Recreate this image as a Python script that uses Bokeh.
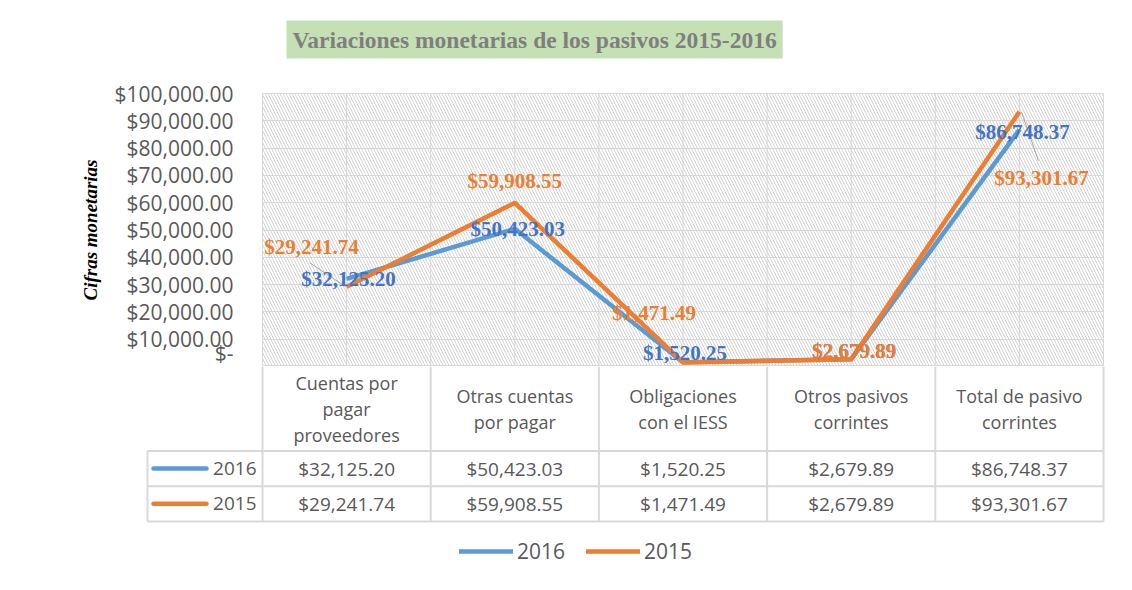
from bokeh.plotting import figure
from bokeh.models import (Range1d, FixedTicker, BoxAnnotation, ColumnDataSource,
                          Legend, LegendItem, Title)
from bokeh.layouts import column
from bokeh.embed import file_html
from bokeh.resources import INLINE
from bokeh.core.properties import value
import numpy as np

# ---------------- data ----------------
categories = ["Cuentas por\npagar\nproveedores", "Otras cuentas\npor pagar",
              "Obligaciones\ncon el IESS", "Otros pasivos\ncorrintes",
              "Total de pasivo\ncorrintes"]
series_names = ["2016", "2015"]
values_2016 = [32125.20, 50423.03, 1520.25, 2679.89, 86748.37]
values_2015 = [29241.74, 59908.55, 1471.49, 2679.89, 93301.67]
y_ticks = [0, 10000, 20000, 30000, 40000, 50000, 60000, 70000, 80000, 90000, 100000]
y_tick_labels = ["$-", "$10,000.00", "$20,000.00", "$30,000.00", "$40,000.00",
                 "$50,000.00", "$60,000.00", "$70,000.00", "$80,000.00",
                 "$90,000.00", "$100,000.00"]
title_text = "Variaciones monetarias de los pasivos 2015-2016"
y_axis_title = "Cifras monetarias"

# ---------------- styles ----------------
C16_LINE = "#5B9BD5"
C15_LINE = "#ED7D31"
C16_LABEL = "#4472C4"
C15_LABEL = "#ED7D31"
GRID = "#d9d9d9"
TXT = "#595959"
SANS = "Open Sans"
SERIF = "Liberation Serif"

W = 1116
COL_W = 168.2          # px per category column
FRAME_H = 273          # px plot area height
FRAME_TOP = 93
Y_MAX = 100000
n = len(categories)
xs = np.arange(n) + 0.5

# label offsets (px, screen, y down) per point
off16_x = [2, 3, 2, 3, 3]
off16_y = [0, 0, -9, -8, 2]
off15_x = [-35, 0, -29, 3, 22]
off15_y = [-40, -22, -49, -8, 66]


def fmt(v):
    return "${:,.2f}".format(v)


# ---------------- chart figure ----------------
pA = figure(width=W, height=FRAME_TOP + FRAME_H, x_range=Range1d(0, n),
            y_range=Range1d(0, Y_MAX), x_axis_type=None,
            output_backend="svg", toolbar_location=None,
            min_border_left=262, min_border_right=W - 262 - 841,
            min_border_top=FRAME_TOP, min_border_bottom=0)
pA.frame_align = False
pA.outline_line_color = GRID
pA.background_fill_color = "white"
pA.border_fill_color = "white"

# title (default title is outermost) + invisible spacer between it and the frame
t = pA.title
t.text = title_text
t.text_font = SERIF
t.text_font_style = "bold"
t.text_font_size = "23.5px"
t.text_color = "#7f7f7f"
t.background_fill_color = "#C5E0B4"
t.align = "left"
t.offset = 24
t.standoff = 0
t.padding = 6
pA.add_layout(Title(text=" ", text_font_size="1px", standoff=32), "above")

# hatch over the plot area
pA.add_layout(BoxAnnotation(fill_alpha=0, line_alpha=0, hatch_pattern="\\",
                            hatch_color="#d4d4d4", hatch_scale=6,
                            hatch_weight=1, level="underlay"))

ax = pA.yaxis[0]
ax.ticker = FixedTicker(ticks=y_ticks)
ax.major_label_overrides = {k: v for k, v in zip(y_ticks, y_tick_labels)}
ax.axis_line_color = None
ax.major_tick_line_color = None
ax.minor_tick_line_color = None
ax.major_tick_out = 0
ax.major_label_standoff = 29
ax.major_label_text_font = SANS
ax.major_label_text_font_size = "21px"
ax.major_label_text_color = TXT
ax.axis_label = y_axis_title
ax.axis_label_text_font = SERIF
ax.axis_label_text_font_style = "bold italic"
ax.axis_label_text_font_size = "19px"
ax.axis_label_text_color = "black"
ax.axis_label_standoff = 10

pA.ygrid.ticker = FixedTicker(ticks=y_ticks)
pA.ygrid.grid_line_color = GRID
# vertical gridlines at category centres and boundaries
vg = np.arange(0, n + 0.01, 0.5)
pA.segment(vg, [0] * len(vg), vg, [Y_MAX] * len(vg), line_color=GRID, line_width=1,
           level="underlay")

pA.line(xs, values_2016, line_color=C16_LINE, line_width=4.5, line_join="round")
pA.line(xs, values_2015, line_color=C15_LINE, line_width=4.5, line_join="round")

# leader lines (from point offsets, px -> data)
px2x = 1.0 / COL_W
px2y = Y_MAX / FRAME_H
lead_idx = [0, 4]
lead_start = {0: (-37, -24), 4: (2, 0)}
lead_end = {0: (-1, 0), 4: (19, 49)}
x0 = [xs[i] + lead_start[i][0] * px2x for i in lead_idx]
y0 = [values_2015[i] - lead_start[i][1] * px2y for i in lead_idx]
x1 = [xs[i] + lead_end[i][0] * px2x for i in lead_idx]
y1 = [values_2015[i] - lead_end[i][1] * px2y for i in lead_idx]
pA.segment(x0, y0, x1, y1, line_color="#a6a6a6", line_width=1)

src16 = ColumnDataSource(dict(x=xs, y=values_2016, t=[fmt(v) for v in values_2016],
                              dx=off16_x, dy=off16_y))
src15 = ColumnDataSource(dict(x=xs, y=values_2015, t=[fmt(v) for v in values_2015],
                              dx=off15_x, dy=off15_y))
for src, col in ((src16, C16_LABEL), (src15, C15_LABEL)):
    pA.text(x="x", y="y", text="t", x_offset="dx", y_offset="dy", source=src,
            text_color=col, text_font=value(SERIF), text_font_style="bold",
            text_font_size="21px", text_align="center", text_baseline="middle")

# ---------------- data table figure ----------------
LEG_W = 115 / COL_W
PADX = 2 / COL_W
ROW_H = 35.2
HEAD = 2.4
HB = 574 - (FRAME_TOP + FRAME_H)      # height of table figure
Y_BOTTOM = 2 + HEAD - HB / ROW_H
pB = figure(width=W, height=HB, x_range=Range1d(-LEG_W - PADX, n + PADX),
            y_range=Range1d(Y_BOTTOM, 2 + HEAD), x_axis_type=None, y_axis_type=None,
            output_backend="svg", toolbar_location=None,
            min_border_left=145, min_border_right=W - 145 - 960, min_border_top=0,
            min_border_bottom=0)
pB.frame_align = False
pB.outline_line_color = None
pB.border_fill_color = "white"
pB.background_fill_color = "white"

# horizontal borders
hy = [0, 1, 2]
pB.segment([-LEG_W] * 3, hy, [n] * 3, hy, line_color=GRID, line_width=2)
# vertical borders
vx = list(range(n + 1)) + [-LEG_W]
vy0 = [0] * (n + 2)
vy1 = [2 + HEAD] * (n + 1) + [2]
pB.segment(vx, vy0, vx, vy1, line_color=GRID, line_width=2)

# header texts (one text per line)
hx, hyy, ht, hoff = [], [], [], []
LINE_SP = 26
for i, cat in enumerate(categories):
    parts = cat.split("\n")
    m = len(parts)
    for k, part in enumerate(parts):
        hx.append(xs[i])
        hyy.append(2 + HEAD / 2)
        ht.append(part)
        hoff.append((k - (m - 1) / 2) * LINE_SP)
pB.text(x=hx, y=hyy, text=ht, y_offset=hoff, text_align="center",
        text_baseline="middle", text_font=value(SANS), text_font_size="18px",
        text_color=TXT)
pB.text(x=xs, y=[1.5] * n, text=[fmt(v) for v in values_2016], text_align="center",
        text_baseline="middle", text_font=value(SANS), text_font_size="19px",
        text_color=TXT)
pB.text(x=xs, y=[0.5] * n, text=[fmt(v) for v in values_2015], text_align="center",
        text_baseline="middle", text_font=value(SANS), text_font_size="19px",
        text_color=TXT)
# legend keys inside the table
keys = pB.segment([-LEG_W + 6 * px2x] * 2, [1.5, 0.5], [-LEG_W + 59 * px2x] * 2,
                  [1.5, 0.5], line_color=[C16_LINE, C15_LINE], line_width=4.5,
                  line_cap="round")
pB.text(x=[0, 0], y=[1.5, 0.5], text=series_names, x_offset=-6, text_align="right",
        text_baseline="middle", text_font=value(SANS), text_font_size="19px",
        text_color=TXT)

# bottom legend
leg = Legend(items=[LegendItem(label=series_names[0], renderers=[keys], index=0),
                    LegendItem(label=series_names[1], renderers=[keys], index=1)],
             orientation="horizontal", location=(314, 9), glyph_width=54,
             glyph_height=20, label_standoff=4, spacing=21, padding=0, margin=0,
             label_text_font=SANS, label_text_font_size="21px",
             label_text_color=TXT, border_line_alpha=0, background_fill_alpha=0)
pB.add_layout(leg)

layout = column(pA, pB)
open("out.html", "w").write(file_html(layout, INLINE))
